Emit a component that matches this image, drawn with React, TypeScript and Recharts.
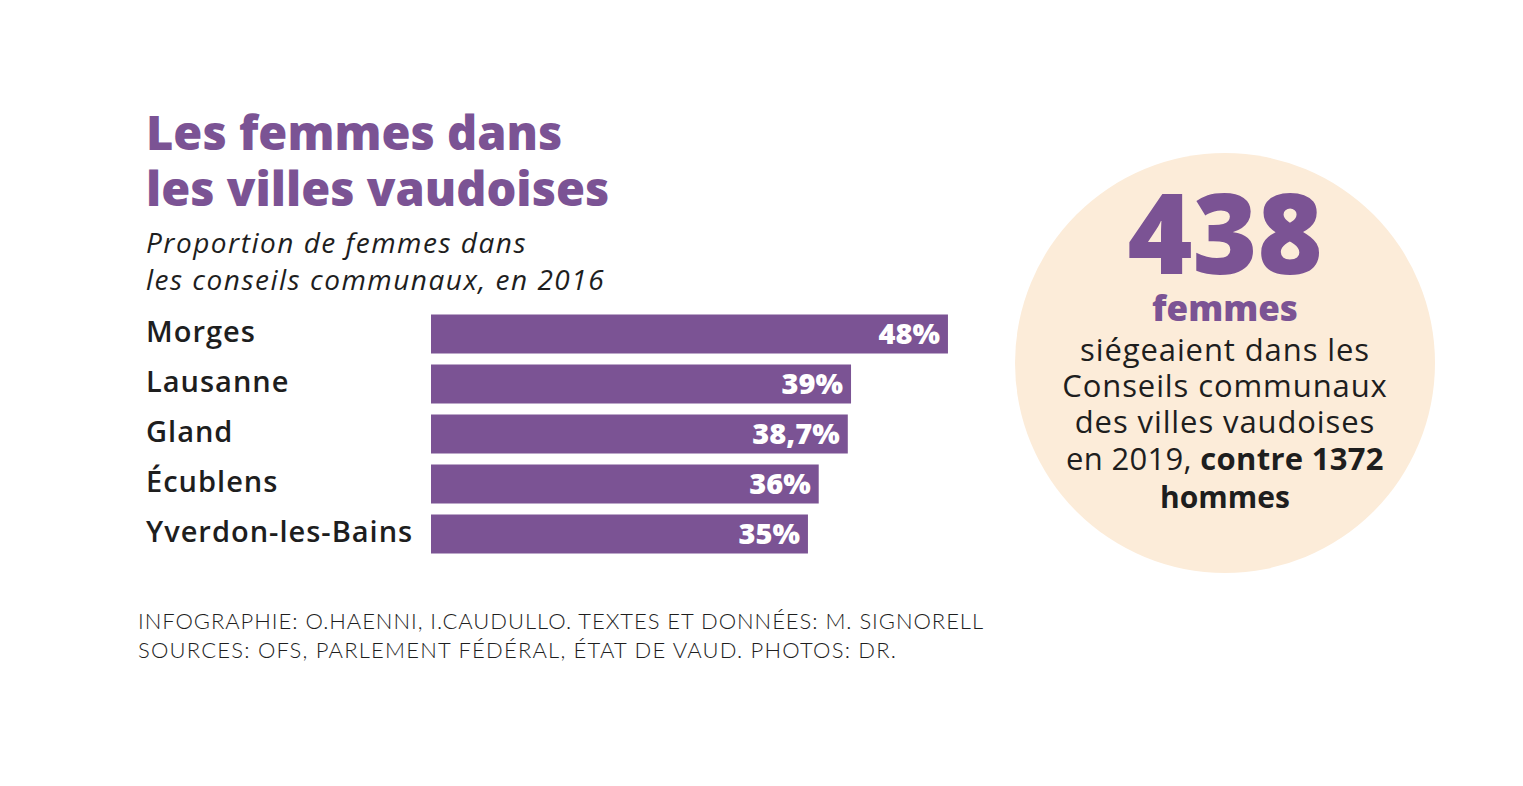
import React from "react";
import { BarChart, Bar, XAxis, YAxis, LabelList } from "recharts";

const cities = ["Morges", "Lausanne", "Gland", "Écublens", "Yverdon-les-Bains"];
const shares = [48, 39, 38.7, 36, 35];
const shareLabels = ["48%", "39%", "38,7%", "36%", "35%"];

const titleLines = ["Les femmes dans", "les villes vaudoises"];
const subtitleLines = ["Proportion de femmes dans", "les conseils communaux, en 2016"];
const footerLines = [
  "INFOGRAPHIE: O.HAENNI, I.CAUDULLO. TEXTES ET DONNÉES: M. SIGNORELL",
  "SOURCES: OFS, PARLEMENT FÉDÉRAL, ÉTAT DE VAUD. PHOTOS: DR.",
];

const PURPLE = "#7b5394";
const INK = "#1e1e1e";
const PEACH = "#fcecd9";
const SANS = "'Open Sans'";

const data = cities.map((c, i) => ({ city: c, value: shares[i], label: shareLabels[i] }));

const CityTick = (props: any) => {
  const { y, payload } = props;
  return (
    <text x={146} y={y} dy={8} textAnchor="start" fill={INK}
      style={{ fontFamily: SANS, fontWeight: 600, fontSize: 29, letterSpacing: 1 }}>
      {payload.value}
    </text>
  );
};

const ValueLabel = (props: any) => {
  const { x, y, width, height, value } = props;
  return (
    <text x={x + width - 8} y={y + height / 2} dy={10} textAnchor="end" fill="#ffffff"
      style={{ fontFamily: SANS, fontWeight: 800, fontSize: 29 }}>
      {value}
    </text>
  );
};

export default function App() {
  return (
    <div style={{ position: "absolute", left: 0, top: 0, width: 1523, height: 786, background: "#fff" }}>
      <svg width={1523} height={786} style={{ position: "absolute", left: 0, top: 0 }}>
        <text x={146} y={150} fill={PURPLE} style={{ fontFamily: SANS, fontWeight: 800, fontSize: 47 }}>{titleLines[0]}</text>
        <text x={146} y={206} fill={PURPLE} style={{ fontFamily: SANS, fontWeight: 800, fontSize: 47 }}>{titleLines[1]}</text>
        <text x={146} y={253} fill={INK} style={{ fontFamily: SANS, fontStyle: "italic", fontWeight: 400, fontSize: 28, letterSpacing: 1.5 }}>{subtitleLines[0]}</text>
        <text x={146} y={290} fill={INK} style={{ fontFamily: SANS, fontStyle: "italic", fontWeight: 400, fontSize: 28, letterSpacing: 1.5 }}>{subtitleLines[1]}</text>

        <circle cx={1225} cy={363} r={210} fill={PEACH} />
        <text x={1225} y={274} textAnchor="middle" fill={PURPLE} style={{ fontFamily: SANS, fontWeight: 800, fontSize: 111 }}>438</text>
        <text x={1225} y={321} textAnchor="middle" fill={PURPLE} style={{ fontFamily: SANS, fontWeight: 800, fontSize: 35 }}>femmes</text>
        <g style={{ fontFamily: SANS, fontWeight: 400, fontSize: 31, letterSpacing: 0.9 }} fill={INK} textAnchor="middle">
          <text x={1225} y={361}>siégeaient dans les</text>
          <text x={1225} y={397}>Conseils communaux</text>
          <text x={1225} y={433}>des villes vaudoises</text>
          <text x={1225} y={470} style={{ letterSpacing: 0.3 }}>en 2019, <tspan fontWeight={700}>contre 1372</tspan></text>
          <text x={1225} y={508} fontWeight={700} style={{ fontSize: 30, letterSpacing: 0 }}>hommes</text>
        </g>

        <text x={138} y={629} fill={INK} style={{ fontFamily: "Lato", fontWeight: 300, fontSize: 22, letterSpacing: 0.95 }}>{footerLines[0]}</text>
        <text x={138} y={658} fill={INK} style={{ fontFamily: "Lato", fontWeight: 300, fontSize: 22, letterSpacing: 1.2 }}>{footerLines[1]}</text>
      </svg>

      <div style={{ position: "absolute", left: 0, top: 300 }}>
        <BarChart width={970} height={270} data={data} layout="vertical"
          margin={{ top: 8.5, right: 0.5, bottom: 11.5, left: 0 }} barCategoryGap={0}>
          <XAxis type="number" domain={[0, 50]} hide />
          <YAxis type="category" dataKey="city" width={431} axisLine={false} tickLine={false} tick={<CityTick />} interval={0} />
          <Bar dataKey="value" fill={PURPLE} barSize={39} isAnimationActive={false}>
            <LabelList dataKey="label" content={<ValueLabel />} />
          </Bar>
        </BarChart>
      </div>
    </div>
  );
}
